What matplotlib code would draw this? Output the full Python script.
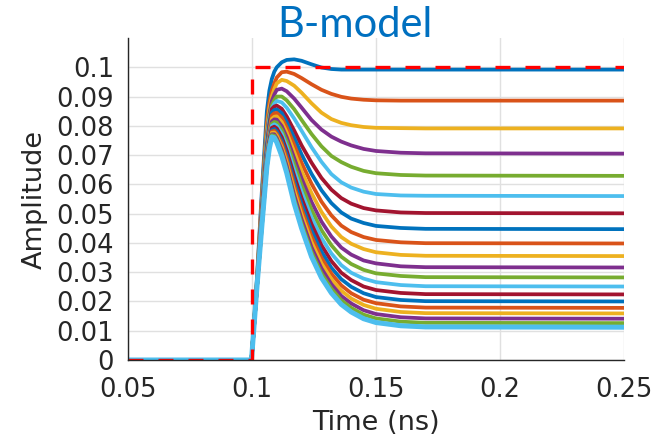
import matplotlib
matplotlib.use('Agg')
import matplotlib.pyplot as plt

# time axis (ns), shared by every response curve
t_ns = [0.05, 0.0998, 0.102, 0.104, 0.106, 0.107, 0.108, 0.109, 0.110, 0.112, 0.114, 0.117, 0.120,
        0.124, 0.128, 0.132, 0.136, 0.140, 0.145, 0.150, 0.160, 0.170, 0.250]

# step input (red dashed)
step_t = [0.05, 0.1, 0.1, 0.25]
step_amp = [0.0, 0.0, 0.1, 0.1]

# B-model responses, top curve first
amp = [
    [0, 0, .028, .058, .085, .0920, .0960, .0985, .1000, .1017, .1025, .1027, .1022, .1010, .0999, .0994, .0992, .0992, .0992, .0992, .0992, .0992, .0992],
    [0, 0, .027, .056, .081, .0880, .0920, .0945, .0965, .0983, .0985, .0977, .0963, .0942, .0923, .0909, .0899, .0893, .0889, .0887, .0886, .0886, .0886],
    [0, 0, .027, .055, .079, .0860, .0900, .0926, .0945, .0957, .0953, .0937, .0913, .0877, .0845, .0823, .0810, .0802, .0796, .0793, .0792, .0791, .0791],
    [0, 0, .026, .054, .077, .0840, .0885, .0907, .0923, .0927, .0918, .0893, .0862, .0820, .0787, .0763, .0746, .0733, .0721, .0714, .0708, .0706, .0705],
    [0, 0, .026, .053, .076, .0830, .0870, .0888, .0900, .0900, .0887, .0857, .0820, .0772, .0730, .0697, .0676, .0660, .0646, .0638, .0632, .0630, .0629],
    [0, 0, .026, .052, .075, .0820, .0860, .0876, .0885, .0880, .0862, .0825, .0783, .0727, .0677, .0635, .0607, .0589, .0575, .0567, .0562, .0561, .0560],
    [0, 0, .026, .051, .073, .0806, .0858, .0866, .0869, .0858, .0832, .0784, .0733, .0674, .0622, .0582, .0553, .0534, .0519, .0511, .0504, .0502, .0501],
    [0, 0, .026, .050, .072, .0795, .0846, .0854, .0856, .0843, .0813, .0759, .0702, .0636, .0580, .0536, .0504, .0483, .0468, .0458, .0451, .0448, .0447],
    [0, 0, .026, .050, .071, .0785, .0835, .0843, .0844, .0828, .0795, .0735, .0673, .0602, .0541, .0494, .0459, .0437, .0420, .0410, .0402, .0399, .0398],
    [0, 0, .026, .049, .070, .0775, .0824, .0831, .0832, .0813, .0777, .0711, .0645, .0570, .0506, .0456, .0420, .0397, .0379, .0368, .0359, .0356, .0355],
    [0, 0, .025, .049, .070, .0770, .0815, .0822, .0821, .0799, .0761, .0690, .0620, .0540, .0473, .0422, .0384, .0360, .0340, .0330, .0320, .0317, .0316],
    [0, 0, .025, .048, .069, .0762, .0807, .0813, .0811, .0786, .0745, .0669, .0597, .0513, .0444, .0392, .0353, .0328, .0308, .0296, .0287, .0283, .0282],
    [0, 0, .025, .048, .069, .0758, .0800, .0805, .0800, .0773, .0729, .0649, .0574, .0487, .0417, .0364, .0324, .0298, .0278, .0266, .0256, .0252, .0251],
    [0, 0, .025, .047, .068, .0750, .0793, .0797, .0791, .0761, .0715, .0630, .0553, .0464, .0392, .0338, .0298, .0273, .0251, .0239, .0229, .0225, .0224],
    [0, 0, .025, .047, .068, .0745, .0785, .0789, .0781, .0749, .0700, .0612, .0533, .0442, .0370, .0315, .0276, .0250, .0228, .0215, .0205, .0201, .0200],
    [0, 0, .025, .047, .067, .0738, .0781, .0783, .0773, .0739, .0688, .0596, .0515, .0422, .0349, .0295, .0255, .0228, .0206, .0194, .0183, .0179, .0178],
    [0, 0, .025, .046, .067, .0735, .0776, .0777, .0766, .0728, .0675, .0580, .0497, .0403, .0330, .0276, .0237, .0210, .0188, .0175, .0164, .0160, .0159],
    [0, 0, .025, .046, .066, .0728, .0771, .0771, .0758, .0718, .0663, .0564, .0481, .0385, .0313, .0259, .0219, .0193, .0170, .0157, .0146, .0142, .0141],
    [0, 0, .025, .046, .066, .0727, .0768, .0766, .0751, .0708, .0651, .0550, .0466, .0369, .0296, .0244, .0204, .0178, .0155, .0142, .0131, .0127, .0126],
    [0, 0, .025, .046, .066, .0723, .0762, .0759, .0743, .0697, .0639, .0535, .0450, .0353, .0281, .0229, .0190, .0164, .0141, .0128, .0117, .0113, .0112],
]

matlab_colors = ['#0072BD', '#D95319', '#EDB120', '#7E2F8E', '#77AC30', '#4DBEEE', '#A2142F']

x_ticks = [0.05, 0.1, 0.15, 0.2, 0.25]
x_ticklabels = ['0.05', '0.1', '0.15', '0.2', '0.25']
y_ticks = [0, 0.01, 0.02, 0.03, 0.04, 0.05, 0.06, 0.07, 0.08, 0.09, 0.1]
y_ticklabels = ['0', '0.01', '0.02', '0.03', '0.04', '0.05', '0.06', '0.07', '0.08', '0.09', '0.1']

txt_color = '#262626'
plt.rcParams['font.family'] = ['DejaVu Sans']

fig = plt.figure(figsize=(6.67, 4.38), dpi=100)
ax = fig.add_axes([0.1919, 0.1781, 0.7436, 0.7352])

for i, row in enumerate(amp):
    lw = 3.6 if i == len(amp) - 1 else 2.7
    ax.plot(t_ns, row, color=matlab_colors[i % len(matlab_colors)], lw=lw,
            solid_joinstyle='round', zorder=3)

ax.plot(step_t, step_amp, color='#FF0000', lw=2.4, dashes=(4.5, 4.5), zorder=4)

ax.set_xlim(0.05, 0.25)
ax.set_ylim(0, 0.11)
ax.set_xticks(x_ticks)
ax.set_xticklabels(x_ticklabels)
ax.set_yticks(y_ticks)
ax.set_yticklabels(y_ticklabels)
ax.tick_params(direction='in', length=0, labelsize=18.5, colors=txt_color, pad=10)
ax.tick_params(axis='x', pad=12)

ax.grid(True, color='#e0e0e0', lw=1.0, zorder=0)
ax.set_axisbelow(True)
for side in ['top', 'right']:
    ax.spines[side].set_visible(False)
for side in ['left', 'bottom']:
    ax.spines[side].set_color(txt_color)
    ax.spines[side].set_linewidth(1.0)
    ax.spines[side].set_zorder(5)

ax.set_xlabel('Time (ns)', fontsize=19.5, color=txt_color, labelpad=5)
ax.set_ylabel('Amplitude', fontsize=19.5, color=txt_color, labelpad=6)

fig.text(0.532, 0.916, 'B-model', fontsize=30, color='#0070C0', family=['Lato', 'DejaVu Sans'],
         ha='center', va='baseline')

fig.savefig('out.png', dpi=100)
